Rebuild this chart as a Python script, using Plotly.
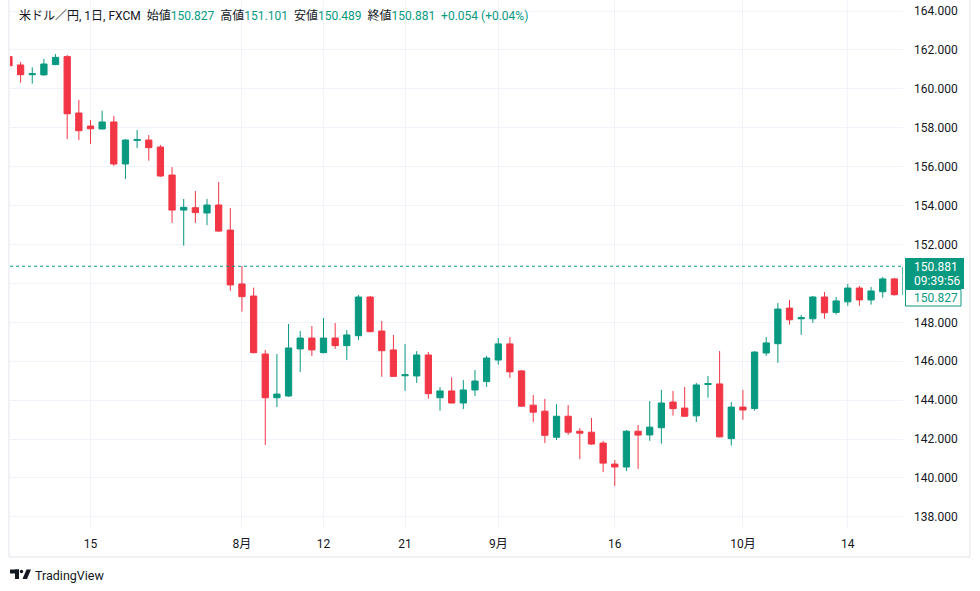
import plotly.graph_objects as go

# ---------------- data ----------------
dates = [
    "2024-07-04", "2024-07-05", "2024-07-08", "2024-07-09", "2024-07-10", "2024-07-11", "2024-07-12",
    "2024-07-15", "2024-07-16", "2024-07-17", "2024-07-18", "2024-07-19",
    "2024-07-22", "2024-07-23", "2024-07-24", "2024-07-25", "2024-07-26",
    "2024-07-29", "2024-07-30", "2024-07-31", "2024-08-01", "2024-08-02",
    "2024-08-05", "2024-08-06", "2024-08-07", "2024-08-08", "2024-08-09",
    "2024-08-12", "2024-08-13", "2024-08-14", "2024-08-15", "2024-08-16",
    "2024-08-19", "2024-08-20", "2024-08-21", "2024-08-22", "2024-08-23",
    "2024-08-26", "2024-08-27", "2024-08-28", "2024-08-29", "2024-08-30",
    "2024-09-02", "2024-09-03", "2024-09-04", "2024-09-05", "2024-09-06",
    "2024-09-09", "2024-09-10", "2024-09-11", "2024-09-12", "2024-09-13",
    "2024-09-16", "2024-09-17", "2024-09-18", "2024-09-19", "2024-09-20",
    "2024-09-23", "2024-09-24", "2024-09-25", "2024-09-26", "2024-09-27",
    "2024-09-30", "2024-10-01", "2024-10-02", "2024-10-03", "2024-10-04",
    "2024-10-07", "2024-10-08", "2024-10-09", "2024-10-10", "2024-10-11",
    "2024-10-14", "2024-10-15", "2024-10-16", "2024-10-17", "2024-10-18",
    "2024-10-21",
]
opens = [
    161.66, 161.23, 160.73, 160.72, 161.25, 161.66, 158.76,
    158.09, 157.94, 158.30, 156.14, 157.35,
    157.37, 157.01, 155.57, 153.77, 153.89,
    153.62, 154.03, 152.74, 149.97, 149.35,
    146.37, 144.12, 144.21, 146.63, 147.19,
    146.44, 147.19, 146.80, 147.31, 149.30,
    147.55, 146.58, 145.25, 145.24, 146.32,
    144.12, 144.47, 143.85, 144.52, 144.95,
    146.06, 146.89, 145.50, 143.74, 143.43,
    142.09, 143.17, 142.40, 142.35, 141.79,
    140.71, 140.56, 142.40, 142.21, 142.58,
    143.90, 143.59, 143.19, 144.80, 144.83,
    142.02, 143.64, 143.57, 146.42, 146.90,
    148.73, 148.18, 148.18, 149.30, 148.51,
    149.05, 149.76, 149.15, 149.57, 150.23,
    149.42,
]
highs = [
    161.74, 161.38, 161.11, 161.54, 161.79, 161.74, 159.43,
    158.40, 158.88, 158.61, 157.42, 157.89,
    157.63, 157.12, 155.98, 154.34, 154.75,
    154.34, 155.21, 153.88, 150.89, 149.78,
    146.58, 146.37, 147.91, 147.55, 147.81,
    148.22, 147.96, 147.60, 149.40, 149.35,
    148.07, 147.35, 146.88, 146.52, 146.47,
    144.67, 145.17, 145.03, 145.55, 146.27,
    147.19, 147.24, 145.55, 144.26, 144.06,
    143.79, 143.74, 142.56, 143.08, 141.90,
    140.92, 142.46, 142.72, 143.95, 144.52,
    144.47, 144.67, 144.88, 145.24, 146.52,
    143.90, 144.52, 146.52, 147.24, 148.99,
    149.15, 148.38, 149.35, 149.56, 149.30,
    149.97, 149.87, 149.82, 150.33, 150.28,
    150.88,
]
lows = [
    161.12, 160.32, 160.27, 160.68, 161.22, 157.42, 157.37,
    157.17, 157.92, 156.04, 155.37, 156.96,
    156.31, 155.48, 153.11, 151.94, 153.11,
    153.00, 152.64, 149.62, 148.55, 146.40,
    141.69, 143.64, 144.18, 145.44, 146.27,
    146.40, 146.63, 146.06, 147.09, 147.48,
    145.20, 145.20, 144.48, 144.88, 144.07,
    143.46, 143.83, 143.54, 144.21, 144.67,
    145.82, 145.14, 143.65, 142.87, 141.79,
    141.95, 142.21, 140.96, 141.70, 140.30,
    139.58, 140.35, 140.46, 141.91, 141.76,
    143.20, 143.14, 142.87, 144.12, 142.08,
    141.66, 142.99, 143.46, 146.27, 145.92,
    147.88, 147.36, 147.97, 148.18, 148.40,
    148.85, 148.85, 148.91, 149.27, 149.37,
    149.40,
]
closes = [
    161.19, 160.73, 160.78, 161.28, 161.62, 158.72, 157.85,
    157.95, 158.30, 156.14, 157.37, 157.40,
    156.98, 155.52, 153.77, 153.91, 153.64,
    154.03, 152.69, 149.92, 149.32, 146.44,
    144.12, 144.31, 146.68, 147.19, 146.58,
    147.19, 146.80, 147.35, 149.30, 147.52,
    146.54, 145.22, 145.30, 146.32, 144.33,
    144.47, 143.85, 144.52, 144.98, 146.16,
    146.89, 145.45, 143.69, 143.38, 142.19,
    143.17, 142.35, 142.30, 141.74, 140.76,
    140.56, 142.40, 142.20, 142.61, 143.85,
    143.56, 143.17, 144.78, 144.85, 142.11,
    143.64, 143.49, 146.47, 146.94, 148.68,
    148.13, 148.24, 149.30, 148.49, 149.10,
    149.76, 149.15, 149.61, 150.23, 149.42,
    150.83,
]

x_tick_dates = ["2024-07-15", "2024-08-01", "2024-08-12", "2024-08-21",
                "2024-09-02", "2024-09-16", "2024-10-01", "2024-10-14"]
x_tick_text = ["15", "8月", "12", "21", "9月", "16", "10月", "14"]
y_ticks = [138, 140, 142, 144, 146, 148, 150, 152, 154, 156, 158, 160, 162, 164]
# the 150.000 label is hidden behind the last-price label in the reference
y_tick_text = ["" if v == 150 else "%.3f" % v for v in y_ticks]

symbol_text = "米ドル／円, 1日, FXCM"
bar_open, bar_high, bar_low, bar_close = "150.827", "151.101", "150.489", "150.881"
bar_change = "+0.054 (+0.04%)"
last_price = 150.881
prev_close_label = "150.827"
countdown = "09:39:56"

# ---------------- style ----------------
UP = "#089981"
DOWN = "#F23645"
TXT = "#131722"
GRID = "#f0f3fa"
BORDER = "#e0e3eb"
FONT = "Roboto, 'Noto Sans CJK JP', sans-serif"

W, H = 980, 591
PL, PR, PT, PB = 10, 903, 1, 528   # plot area in pixels


def px(x):
    return (x - PL) / (PR - PL)


def py(y):
    return (PB - y) / (PB - PT)


fig = go.Figure(go.Candlestick(
    x=dates, open=opens, high=highs, low=lows, close=closes,
    increasing=dict(line=dict(color=UP, width=1), fillcolor=UP),
    decreasing=dict(line=dict(color=DOWN, width=1), fillcolor=DOWN),
    whiskerwidth=0, hoverinfo="skip",
))

shapes = [
    # widget border
    dict(type="line", xref="paper", yref="paper", x0=px(9), x1=px(9), y0=py(0), y1=py(557),
         line=dict(color=BORDER, width=1)),
    dict(type="line", xref="paper", yref="paper", x0=px(970), x1=px(970), y0=py(0), y1=py(557),
         line=dict(color=BORDER, width=1)),
    dict(type="line", xref="paper", yref="paper", x0=px(9), x1=px(970), y0=py(557), y1=py(557),
         line=dict(color=BORDER, width=1)),
    # last price line
    dict(type="line", xref="paper", yref="y", x0=0, x1=1, y0=last_price, y1=last_price,
         line=dict(color=UP, width=1, dash="dot"), layer="above"),
    # price label boxes
    dict(type="rect", xref="paper", yref="paper", x0=px(905), x1=px(964), y0=py(289), y1=py(258),
         fillcolor=UP, line=dict(width=0), layer="above"),
    dict(type="rect", xref="paper", yref="paper", x0=px(905.5), x1=px(961), y0=py(306), y1=py(289.5),
         fillcolor="white", line=dict(color=UP, width=1), layer="above"),
    # TradingView logo
    dict(type="rect", xref="paper", yref="paper", x0=px(10), x1=px(19), y0=py(573.5), y1=py(569.5),
         fillcolor=TXT, line=dict(width=0)),
    dict(type="rect", xref="paper", yref="paper", x0=px(15), x1=px(19), y0=py(579), y1=py(569.5),
         fillcolor=TXT, line=dict(width=0)),
    dict(type="circle", xref="paper", yref="paper", x0=px(19.8), x1=px(23.2), y0=py(573.2), y1=py(569.8),
         fillcolor=TXT, line=dict(width=0)),
    dict(type="path", xref="paper", yref="paper",
         path="M %f %f L %f %f L %f %f L %f %f Z" % (px(22.5), py(579), px(26.5), py(569.5),
                                                     px(31), py(569.5), px(27), py(579)),
         fillcolor=TXT, line=dict(width=0)),
]

sp = "\u00a0\u00a0"
header = (
    f"<span style='color:{TXT}'>{symbol_text}</span>{sp}"
    f"<span style='color:{TXT}'>始値</span><span style='color:{UP}'>{bar_open}</span>{sp}"
    f"<span style='color:{TXT}'>高値</span><span style='color:{UP}'>{bar_high}</span>{sp}"
    f"<span style='color:{TXT}'>安値</span><span style='color:{UP}'>{bar_low}</span>{sp}"
    f"<span style='color:{TXT}'>終値</span><span style='color:{UP}'>{bar_close}</span>{sp}"
    f"<span style='color:{UP}'>{bar_change}</span>"
)

annotations = [
    dict(text=header, xref="paper", yref="paper", x=px(17), y=py(15.5), xanchor="left",
         yanchor="middle", showarrow=False, font=dict(family=FONT, size=12, color=TXT)),
    dict(text="%.3f" % last_price, xref="paper", yref="paper", x=px(912), y=py(266.5),
         xanchor="left", yanchor="middle", showarrow=False,
         font=dict(family=FONT, size=12, color="white")),
    dict(text=countdown, xref="paper", yref="paper", x=px(912), y=py(281),
         xanchor="left", yanchor="middle", showarrow=False,
         font=dict(family=FONT, size=12, color="white")),
    dict(text=prev_close_label, xref="paper", yref="paper", x=px(912), y=py(297.5),
         xanchor="left", yanchor="middle", showarrow=False,
         font=dict(family=FONT, size=12, color=UP)),
    dict(text="TradingView", xref="paper", yref="paper", x=px(33), y=py(575),
         xanchor="left", yanchor="middle", showarrow=False,
         font=dict(family=FONT, size=12.5, color=TXT)),
]

fig.update_layout(
    width=W, height=H,
    margin=dict(l=PL, r=W - PR, t=PT, b=H - PB, pad=0),
    paper_bgcolor="white", plot_bgcolor="white",
    showlegend=False, boxgap=0.23,
    shapes=shapes, annotations=annotations,
    font=dict(family=FONT, color=TXT),
    xaxis=dict(
        type="category", range=[0.09, 76.74],
        tickmode="array", tickvals=x_tick_dates, ticktext=x_tick_text,
        showgrid=True, gridcolor=GRID, gridwidth=1, ticks="", showline=False, zeroline=False,
        tickfont=dict(family=FONT, size=12, color=TXT), ticklabelstandoff=7,
        rangeslider=dict(visible=False), fixedrange=True,
    ),
    yaxis=dict(
        side="right", range=[137.424, 164.519],
        tickmode="array", tickvals=y_ticks, ticktext=y_tick_text,
        showgrid=True, gridcolor=GRID, gridwidth=1, ticks="", showline=False, zeroline=False,
        tickfont=dict(family=FONT, size=12, color=TXT), ticklabelstandoff=10, fixedrange=True,
    ),
)

fig.write_html("out.html", config={"displayModeBar": False},
               post_script="document.body.style.margin='0';")
